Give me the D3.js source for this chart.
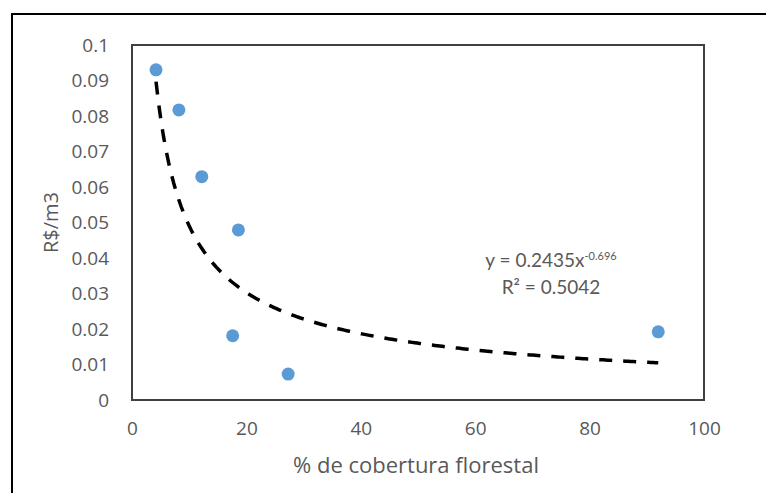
<!DOCTYPE html>
<html>
<head>
<meta charset="utf-8">
<script src="https://d3js.org/d3.v7.min.js"></script>
<style>
  html, body { margin: 0; padding: 0; background: #fff; overflow: hidden; }
  text { font-family: "Open Sans", Lato, sans-serif; fill: #595959; }
</style>
</head>
<body>
<div id="chart"></div>
<script>
// valores
const coverage = [4.2, 8.2, 12.2, 18.6, 17.6, 27.3, 92.0];
const costPerM3 = [0.0930, 0.0817, 0.0629, 0.0479, 0.0181, 0.0073, 0.0192];
const xTicks = [0, 20, 40, 60, 80, 100];
const yTicks = [0, 0.01, 0.02, 0.03, 0.04, 0.05, 0.06, 0.07, 0.08, 0.09, 0.1];
// linha de tendência (potência) exibida no gráfico
const trendA = 0.2435;
const trendB = -0.696;
const trendR2 = 0.5042;

const width = 766, height = 493;
const margin = { top: 45, right: 62, bottom: 93, left: 132 };
const innerW = width - margin.left - margin.right;
const innerH = height - margin.top - margin.bottom;

const root = d3.select('#chart').append('svg')
    .attr('width', width)
    .attr('height', height);

// moldura externa (cortada na direita e embaixo)
root.append('rect')
    .attr('x', 12).attr('y', 14)
    .attr('width', 800).attr('height', 600)
    .attr('fill', 'none')
    .attr('stroke', '#000')
    .attr('stroke-width', 2);

const svg = root.append('g')
    .attr('transform', `translate(${margin.left},${margin.top})`);

const x = d3.scaleLinear().domain([0, 100]).range([0, innerW]);
const y = d3.scaleLinear().domain([0, 0.1]).range([innerH, 0]);

// borda da área de plotagem
svg.append('rect')
    .attr('x', 0).attr('y', 0)
    .attr('width', innerW).attr('height', innerH)
    .attr('fill', 'none')
    .attr('stroke', '#404040')
    .attr('stroke-width', 2);

// eixos (sem marcas)
svg.append('g')
    .attr('transform', `translate(0,${innerH})`)
    .call(d3.axisBottom(x).tickValues(xTicks).tickSize(0).tickPadding(22).tickFormat(d3.format('d')))
    .call(g => g.select('.domain').remove())
    .selectAll('text')
    .style('font-size', '19px')
    .attr('fill', '#595959');

svg.append('g')
    .call(d3.axisLeft(y).tickValues(yTicks).tickSize(0).tickPadding(23).tickFormat(d => String(+d.toFixed(2))))
    .call(g => g.select('.domain').remove())
    .selectAll('text')
    .style('font-size', '19px')
    .attr('fill', '#595959');

// linha de tendência
const trendData = d3.range(0, 201).map(i => {
    const xv = d3.min(coverage) + (d3.max(coverage) - d3.min(coverage)) * i / 200;
    return [xv, trendA * Math.pow(xv, trendB)];
});

svg.append('path')
    .datum(trendData)
    .attr('d', d3.line().x(d => x(d[0])).y(d => y(d[1])))
    .attr('fill', 'none')
    .attr('stroke', '#000')
    .attr('stroke-width', 3.5)
    .attr('stroke-dasharray', '13,11');

// pontos
svg.selectAll('.dot')
    .data(coverage.map((c, i) => ({ c, v: costPerM3[i] })))
    .enter()
    .append('circle')
    .attr('cx', d => x(d.c))
    .attr('cy', d => y(d.v))
    .attr('r', 6.5)
    .attr('fill', '#5B9BD5');

// equação
const eq = svg.append('text')
    .attr('x', 419)
    .attr('y', 222)
    .attr('text-anchor', 'middle')
    .style('font-family', 'Lato, sans-serif')
    .style('font-size', '19px');
eq.append('tspan').text(`y = ${trendA}x`);
eq.append('tspan').attr('dy', -7).style('font-size', '11px').text(String(trendB));

svg.append('text')
    .attr('x', 419)
    .attr('y', 249)
    .attr('text-anchor', 'middle')
    .style('font-family', 'Lato, sans-serif')
    .style('font-size', '19px')
    .text(`R² = ${trendR2}`);

// títulos dos eixos
root.append('text')
    .attr('x', 416)
    .attr('y', 473)
    .attr('text-anchor', 'middle')
    .style('font-size', '22px')
    .text('% de cobertura florestal');

root.append('text')
    .attr('transform', `translate(58,${margin.top + innerH / 2}) rotate(-90)`)
    .attr('text-anchor', 'middle')
    .style('font-size', '20px')
    .text('R$/m3');
</script>
</body>
</html>
